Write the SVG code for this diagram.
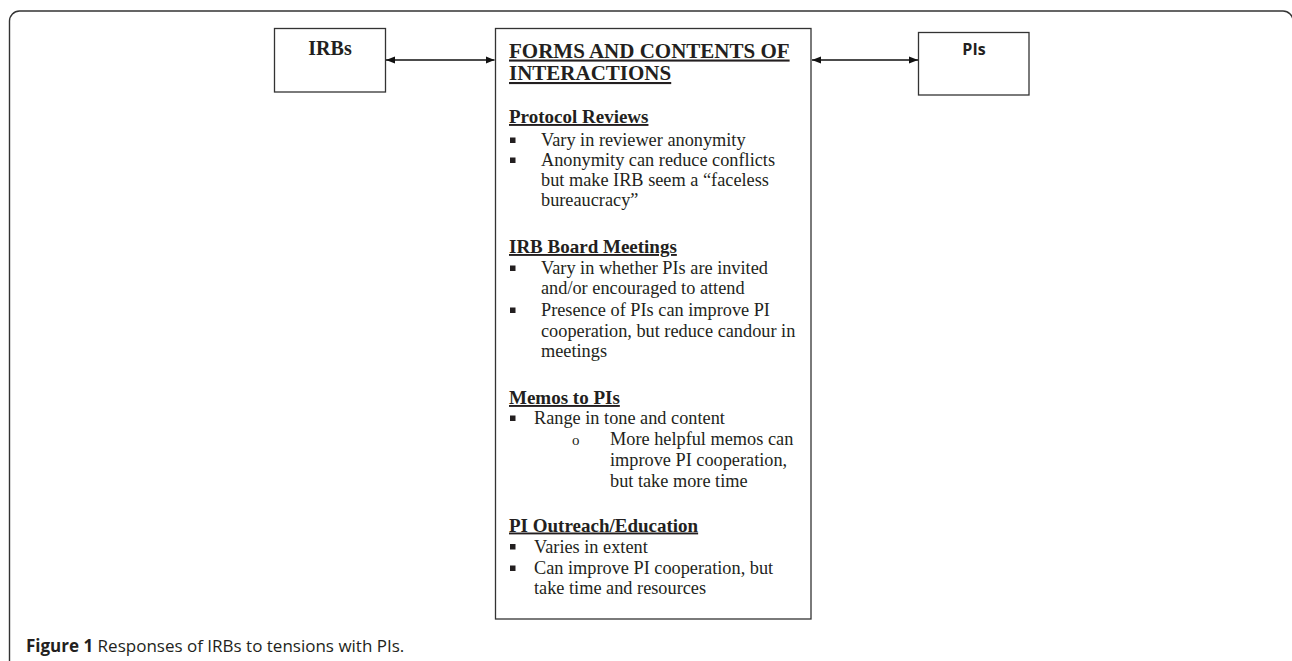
<svg xmlns="http://www.w3.org/2000/svg" width="1292" height="661" viewBox="0 0 1292 661">
  <style>
    .frame { fill: none; stroke: #333333; stroke-width: 1.4; }
    .box { fill: #ffffff; stroke: #333333; stroke-width: 1.3; }
    .serif { font-family: "Liberation Serif", "Times New Roman", serif; fill: #231f20; }
    .head { font-weight: bold; font-size: 19px; text-decoration: underline; }
    .title { font-weight: bold; font-size: 21px; text-decoration: underline; }
    .body { font-size: 18.3px; }
    .bullet { fill: #231f20; }
    .conn { stroke: #111111; stroke-width: 1.5; fill: none; }
    .cap { font-family: "Open Sans", "Liberation Sans", Arial, sans-serif; font-size: 17px; fill: #231f20; }
  </style>
  <defs>
    <marker id="ah" viewBox="0 0 10 8" refX="10" refY="4" markerWidth="9" markerHeight="9" markerUnits="userSpaceOnUse" orient="auto-start-reverse">
      <path d="M0,0 L10,4 L0,8 z" fill="#111111"/>
    </marker>
  </defs>
  <rect width="1292" height="661" fill="#ffffff"/>
  <path class="frame" d="M9.5 661 V21 A10 10 0 0 1 19.5 11 H1283 A10 10 0 0 1 1293 21 V661"/>

  <g id="irbs">
    <rect class="box" x="274.5" y="28.5" width="111" height="63.5"/>
    <text class="serif" x="330" y="55" font-size="20" font-weight="bold" text-anchor="middle">IRBs</text>
  </g>

  <g id="pis">
    <rect class="box" x="918.5" y="32.5" width="110.5" height="62.5"/>
    <text x="974" y="55" font-family="'Open Sans', 'Liberation Sans', sans-serif" font-size="16" font-weight="bold" fill="#231f20" text-anchor="middle">PIs</text>
  </g>

  <g id="interactions">
    <rect class="box" x="495.5" y="28.5" width="315.5" height="590.5"/>
    <text class="serif title" x="509" y="57.5">FORMS AND CONTENTS OF</text>
    <text class="serif title" x="509" y="80">INTERACTIONS</text>

    <text class="serif head" x="509" y="123">Protocol Reviews</text>
    <rect class="bullet" x="510" y="137.5" width="5.5" height="5.5"/>
    <text class="serif body" x="541" y="145.5">Vary in reviewer anonymity</text>
    <rect class="bullet" x="510" y="157.5" width="5.5" height="5.5"/>
    <text class="serif body" x="541" y="165.5">Anonymity can reduce conflicts</text>
    <text class="serif body" x="541" y="185.5">but make IRB seem a “faceless</text>
    <text class="serif body" x="541" y="205.5">bureaucracy”</text>

    <text class="serif head" x="509" y="253">IRB Board Meetings</text>
    <rect class="bullet" x="510" y="265.5" width="5.5" height="5.5"/>
    <text class="serif body" x="541" y="274">Vary in whether PIs are invited</text>
    <text class="serif body" x="541" y="294">and/or encouraged to attend</text>
    <rect class="bullet" x="510" y="307.5" width="5.5" height="5.5"/>
    <text class="serif body" x="541" y="316">Presence of PIs can improve PI</text>
    <text class="serif body" x="541" y="336.5">cooperation, but reduce candour in</text>
    <text class="serif body" x="541" y="356.5">meetings</text>

    <text class="serif head" x="509" y="404">Memos to PIs</text>
    <rect class="bullet" x="510" y="415.5" width="5.5" height="5.5"/>
    <text class="serif body" x="534" y="424">Range in tone and content</text>
    <text class="serif" x="572" y="445" font-size="15">o</text>
    <text class="serif body" x="610" y="445">More helpful memos can</text>
    <text class="serif body" x="610" y="466">improve PI cooperation,</text>
    <text class="serif body" x="610" y="486.5">but take more time</text>

    <text class="serif head" x="509" y="531.5">PI Outreach/Education</text>
    <rect class="bullet" x="510" y="544" width="5.5" height="5.5"/>
    <text class="serif body" x="534" y="552.5">Varies in extent</text>
    <rect class="bullet" x="510" y="565.5" width="5.5" height="5.5"/>
    <text class="serif body" x="534" y="574">Can improve PI cooperation, but</text>
    <text class="serif body" x="534" y="594">take time and resources</text>
  </g>

  <g id="connectors">
    <line class="conn" x1="386" y1="60" x2="494.5" y2="60" marker-start="url(#ah)" marker-end="url(#ah)"/>
    <line class="conn" x1="812" y1="60" x2="918" y2="60" marker-start="url(#ah)" marker-end="url(#ah)"/>
  </g>

  <g id="caption">
    <text class="cap" x="26" y="652"><tspan font-weight="bold">Figure 1</tspan> Responses of IRBs to tensions with PIs.</text>
  </g>
</svg>
